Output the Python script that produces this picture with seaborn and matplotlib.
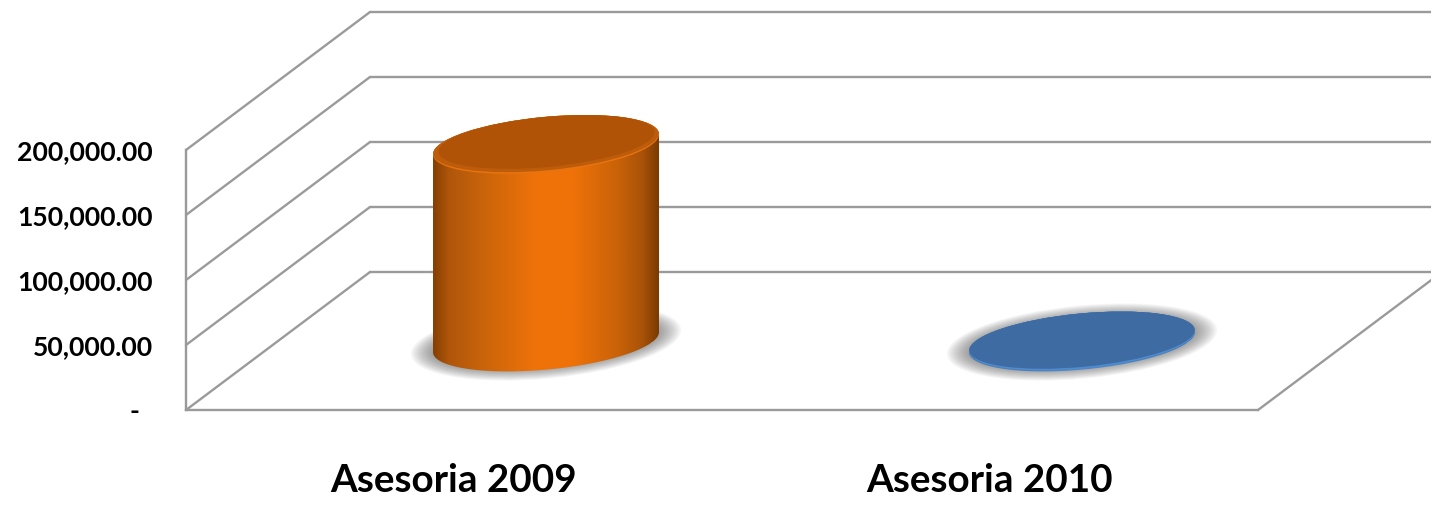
import numpy as np
import pandas as pd
import matplotlib
matplotlib.use("Agg")
import matplotlib.pyplot as plt
import seaborn as sns
from matplotlib.colors import LinearSegmentedColormap
from matplotlib.patches import Ellipse
from matplotlib.path import Path
from matplotlib.transforms import Affine2D, IdentityTransform

categorias = ["Asesoria 2009", "Asesoria 2010"]
valores = [152000, 800]
ticks_y = [0, 50000, 100000, 150000, 200000]
labels_y = ["-\u00a0\u00a0", "50,000.00", "100,000.00", "150,000.00", "200,000.00"]

# estilo de cada cilindro
posicoes_lado = [0.0, 0.07, 0.22, 0.45, 0.62, 0.82, 0.93, 1.0]
cores_lado = [
    ["#854002", "#b0560a", "#c9640a", "#ef7209", "#ef7209", "#c96208", "#a85208", "#7a3a02"],
    ["#4478b5", "#4a80bd", "#4a80bd", "#4f86c6", "#4f86c6", "#4a80bd", "#4a80bd", "#4478b5"],
]
cores_topo = ["#b05306", "#3f6ba3"]
cores_meio = ["#bd5c0a", "#3f6ba3"]
cores_aro = ["#e87410", "#4f8ccf"]
COR_GRADE = "#9a9a9a"

# perspectiva em pixels (parede de fundo e centro da profundidade)
FUNDO = (184, 138)
MEIO = (92, 68)
SEMI_A, SEMI_B, ANGULO = 113.5, 27.5, 5.4

sns.set_theme(style="white")
plt.rcParams["font.family"] = ["Lato", "DejaVu Sans"]

fig = plt.figure(figsize=(14.31, 5.07), dpi=100)
ax = fig.add_axes([186 / 1431, (507 - 410) / 507, 1072 / 1431, 260 / 507])

df = pd.DataFrame({"categoria": categorias, "valor": valores})
sns.barplot(data=df, x="categoria", y="valor", hue="categoria", width=0.42,
            palette=["#ef7209", "#3f6ba3"], legend=False, ax=ax, zorder=5)
ax.set_xlim(-0.5, 1.5)
ax.set_ylim(0, 200000)
ax.set_xlabel("")
ax.set_ylabel("")
ax.set_yticks(ticks_y)
ax.set_yticklabels(labels_y)
ax.tick_params(axis="y", length=0, pad=24, labelsize=19.2)
ax.tick_params(axis="x", length=0, pad=38, labelsize=27.8)
for lab in ax.get_xticklabels() + ax.get_yticklabels():
    lab.set_fontweight("bold")
    lab.set_color("black")

sns.despine(ax=ax)
for lado in ["left", "bottom"]:
    ax.spines[lado].set_color(COR_GRADE)
    ax.spines[lado].set_linewidth(1.7)

trans_fundo = ax.transData + Affine2D().translate(*FUNDO)
trans_meio = ax.transData + Affine2D().translate(*MEIO)
pixel = IdentityTransform()

# grade: diagonal na parede esquerda + linha horizontal no fundo
for t in ticks_y:
    p0 = ax.transData.transform((-0.5, t))
    p1 = trans_fundo.transform((-0.5, t))
    ax.plot([p0[0], p1[0]], [p0[1], p1[1]], color=COR_GRADE, lw=1.7, transform=pixel, clip_on=False, zorder=1)
    ax.plot([-0.5, 1.5], [t, t], color=COR_GRADE, lw=1.7, transform=trans_fundo, clip_on=False, zorder=1)

# diagonal direita do piso
p0 = ax.transData.transform((1.5, 0))
p1 = trans_fundo.transform((1.5, 0))
ax.plot([p0[0], p1[0]], [p0[1], p1[1]], color=COR_GRADE, lw=1.7, transform=pixel, clip_on=False, zorder=1)


def pontos_elipse(centro, inicio, fim):
    th = np.radians(ANGULO)
    t = np.linspace(inicio, fim, 80)
    x = SEMI_A * np.cos(t) * np.cos(th) - SEMI_B * np.sin(t) * np.sin(th)
    y = SEMI_A * np.cos(t) * np.sin(th) + SEMI_B * np.sin(t) * np.cos(th)
    return np.column_stack([centro[0] + x, centro[1] + y])


def elipse(centro, a, b, cor, zorder, alpha=1.0):
    e = Ellipse(centro, 2 * a, 2 * b, angle=ANGULO, facecolor=cor, edgecolor="none",
                alpha=alpha, transform=pixel, clip_on=False, zorder=zorder)
    ax.add_patch(e)
    return e


t0 = np.arctan2(-SEMI_B * np.sin(np.radians(ANGULO)), SEMI_A * np.cos(np.radians(ANGULO)))

for i, barra in enumerate(list(ax.patches)):
    x0 = barra.get_x()
    w = barra.get_width()
    v = barra.get_height()
    base = trans_meio.transform((x0 + w / 2, 0))
    topo = trans_meio.transform((x0 + w / 2, v))

    # sombra difusa no piso
    for k in range(14):
        elipse((base[0], base[1]), SEMI_A + 22 - 2.0 * k, SEMI_B + 9 - 1.0 * k, "#4a4a4a", 2, alpha=0.058)

    # corpo do cilindro, recortado pelo contorno
    contorno = np.vstack([pontos_elipse(base, t0 + np.pi, t0 + 2 * np.pi),
                          pontos_elipse(topo, t0, t0 + np.pi)])
    corpo = Path(np.vstack([contorno, contorno[0]]), closed=True)
    cmap = LinearSegmentedColormap.from_list(f"lado{i}", list(zip(posicoes_lado, cores_lado[i])), N=256)
    im = ax.imshow(np.linspace(0, 1, 256).reshape(1, -1), cmap=cmap, aspect="auto",
                   extent=(x0, x0 + w, -40000, v + 40000), transform=trans_meio,
                   interpolation="bilinear", zorder=6)
    # sem isso a imagem fica cortada no topo dos eixos
    im.set_clip_box(fig.bbox)
    im.set_clip_path(corpo, pixel)
    barra.set_transform(trans_meio)
    barra.set_clip_box(fig.bbox)
    barra.set_clip_path(corpo, pixel)

    # tampa com aro claro na borda de baixo
    elipse(topo, SEMI_A, SEMI_B, cores_aro[i], 7)
    elipse((topo[0], topo[1] + 0.8), SEMI_A - 0.3, SEMI_B - 0.8, cores_meio[i], 8)
    elipse((topo[0] + 0.5, topo[1] + 2.5), SEMI_A - 5, SEMI_B - 2.5, cores_topo[i], 9)

ax.set_xlim(-0.5, 1.5)
ax.set_ylim(0, 200000)

fig.savefig("out.png", dpi=100)
